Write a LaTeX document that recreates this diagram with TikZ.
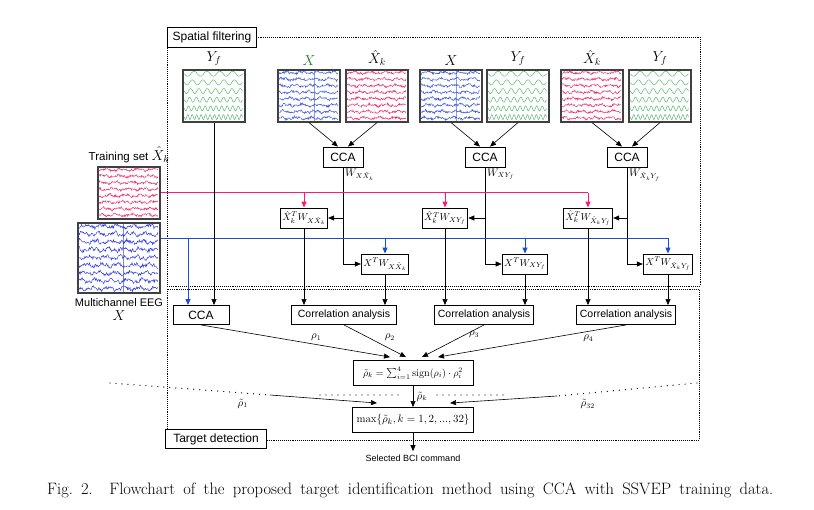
\documentclass[tikz,border=0pt]{standalone}
\usepackage{amsmath}
\usepackage{fontspec}
\setsansfont{Liberation Sans}
\usepackage{tikz}
\usetikzlibrary{arrows.meta}
\usetikzlibrary{calc, positioning}
\definecolor{eegblue}{rgb}{0.25, 0.35, 0.85}
\definecolor{eegdark}{rgb}{0.15, 0.2, 0.9}
\definecolor{eegpink}{rgb}{0.93, 0.2, 0.45}
\definecolor{sinegreen}{rgb}{0.35, 0.72, 0.45}
\definecolor{xgreen}{rgb}{0.15, 0.45, 0.15}
\definecolor{linepink}{rgb}{1.0, 0.1, 0.45}
\definecolor{lineblue}{rgb}{0.1, 0.3, 0.85}
\newcommand{\eegwave}[6]{%
  \begin{scope}[shift={(#1.north west)}]
    \foreach \row in {1,...,#3}
      \draw[#2, line width=0.45pt] plot[domain=1.5:#4-1.5, samples=120]
        (\x, {(\row-0.5)*#5/#3 + #6*(0.6*rand + 0.5*sin(\x*23+\row*70) + 0.3*sin(\x*61+\row*40))});
  \end{scope}}
\newcommand{\sinewave}[1]{%
  \begin{scope}[shift={(#1.north west)}]
    \foreach \row/\cyc in {1/4.5, 2/5.5, 3/7, 4/8.5, 5/10.5, 6/13}
      \draw[sinegreen, line width=0.5pt] plot[domain=2:60, samples=160, smooth]
        (\x, {(\row-0.5)*52/6 + 2.5*sin(\cyc*((\x-2)/58)*360)});
  \end{scope}}

\begin{document}
\begin{tikzpicture}[x=1pt, y=-1pt,
    box/.style={draw, line width=0.9pt, inner sep=2pt, font=\sffamily\fontsize{12}{14}\selectfont},
    mbox/.style={draw, line width=0.9pt, inner sep=2pt, font=\fontsize{10}{12}\selectfont, minimum height=20pt},
    sig/.style={draw=black!75, line width=1.2pt, minimum width=62pt, minimum height=52pt, inner sep=0pt},
    arr/.style={-{Triangle[length=6pt, width=5pt]}, line width=0.6pt},
    region/.style={densely dotted, line width=0.9pt},
    dots/.style={line width=1.3pt, line cap=round, dash pattern=on 0pt off 6pt},
    lbl/.style={font=\fontsize{14.5}{16}\selectfont},
    sm/.style={font=\fontsize{10.5}{12}\selectfont}]
  \useasboundingbox (0,0) rectangle (814,510);
  \pgfmathsetseed{42}

  \draw[region] (167,37) rectangle (700,286);
  \draw[region] (167,289) rectangle (699,440);
  \node[box, fill=white, minimum height=20pt, inner xsep=5pt] (spatial) at (212,37) {Spatial filtering};
  \node[box, fill=white, minimum height=19pt, inner xsep=8pt] (target) at (216,439) {Target detection};

  \node[sig] (yf0) at (214,96) {};
  \node[sig] (x1) at (309,96) {};
  \node[sig] (xh1) at (377,96) {};
  \node[sig] (x2) at (451,96) {};
  \node[sig] (yf2) at (518,96) {};
  \node[sig] (xh3) at (592,96) {};
  \node[sig] (yf3) at (660,96) {};
  \node[sig] (train) at (129,193) {};
  \node[sig, minimum width=82pt, minimum height=70pt] (eeg) at (119,258) {};

  \sinewave{yf0}
  \sinewave{yf2}
  \sinewave{yf3}
  \eegwave{x1}{eegblue}{8}{62}{52}{1.8}
  \eegwave{x2}{eegblue}{8}{62}{52}{1.8}
  \eegwave{xh1}{eegpink}{8}{62}{52}{1.7}
  \eegwave{xh3}{eegpink}{8}{62}{52}{1.7}
  \eegwave{train}{eegpink}{8}{62}{52}{1.7}
  \eegwave{eeg}{eegdark}{9}{82}{70}{2.6}
  \draw[eegblue, line width=0.4pt, opacity=0.6] ($(x1.north west)+(37,2)$) -- ($(x1.south west)+(37,-2)$);
  \draw[eegblue, line width=0.4pt, opacity=0.6] ($(x2.north west)+(37,2)$) -- ($(x2.south west)+(37,-2)$);
  \draw[eegdark, line width=0.4pt, opacity=0.6] ($(eeg.north west)+(46,2)$) -- ($(eeg.south west)+(46,-2)$);

  \node[lbl, above=0pt of yf0] (lyf0) {$Y_f$};
  \node[lbl, above=0pt of x1] (lx1) {\color{xgreen}$X$};
  \node[lbl, above=0pt of xh1] (lxh1) {$\hat{X}_k$};
  \node[lbl, above=0pt of x2] (lx2) {$X$};
  \node[lbl, above=0pt of yf2] (lyf2) {$Y_f$};
  \node[lbl, above=0pt of xh3] (lxh3) {$\hat{X}_k$};
  \node[lbl, above=0pt of yf3] (lyf3) {$Y_f$};
  \node[font=\sffamily\fontsize{11.5}{13}\selectfont, above=0pt of train] (ltrain) {Training set \fontsize{14}{15}\selectfont$\hat{X}_k$};
  \node[font=\sffamily\fontsize{11}{13}\selectfont, below=1pt of eeg] (leeg) {Multichannel EEG};
  \node[lbl, below=-3pt of leeg] (lx) {$X$};

  \node[box, minimum width=40pt, minimum height=20pt] (cca1) at (343,157) {CCA};
  \node[box, minimum width=40pt, minimum height=20pt] (cca2) at (485,157) {CCA};
  \node[box, minimum width=40pt, minimum height=20pt] (cca3) at (627,157) {CCA};
  \draw[arr] (x1.south) -- ($(cca1.north)+(-5,0)$);
  \draw[arr] (xh1.south) -- ($(cca1.north)+(5,0)$);
  \draw[arr] (x2.south) -- ($(cca2.north)+(-5,0)$);
  \draw[arr] (yf2.south) -- ($(cca2.north)+(5,0)$);
  \draw[arr] (xh3.south) -- ($(cca3.north)+(-5,0)$);
  \draw[arr] (yf3.south) -- ($(cca3.north)+(5,0)$);
  \node[sm, anchor=north west, inner sep=1pt] (w1) at ($(cca1.south)+(1,0)$) {$W_{X\hat{X}_k}$};
  \node[sm, anchor=north west, inner sep=1pt] (w2) at ($(cca2.south)+(1,0)$) {$W_{XY_f}$};
  \node[sm, anchor=north west, inner sep=1pt] (w3) at ($(cca3.south)+(1,0)$) {$W_{\hat{X}_kY_f}$};

  \node[mbox] (p1) at (304,218) {$\hat{X}_k^TW_{X\hat{X}_k}$};
  \node[mbox] (p2) at (445,218) {$\hat{X}_k^TW_{XY_f}$};
  \node[mbox] (p3) at (588,218) {$\hat{X}_k^TW_{\hat{X}_kY_f}$};
  \node[mbox] (q1) at (385,264) {$X^TW_{X\hat{X}_k}$};
  \node[mbox] (q2) at (525,264) {$X^TW_{XY_f}$};
  \node[mbox] (q3) at (668,264) {$X^TW_{\hat{X}_kY_f}$};
  \foreach \c/\p/\q in {cca1/p1/q1, cca2/p2/q2, cca3/p3/q3} {
    \draw[arr] (\c.south) |- (\q.west);
    \draw[arr] (\c.south |- \p.east) -- (\p.east);
  }

  \draw[linepink, line width=1pt] (train.east) -- (train.east -| p3.north);
  \foreach \p in {p1, p2, p3}
    \draw[linepink, arr, line width=1pt] (train.east -| \p.north) -- (\p.north);

  \coordinate (bl) at ($(eeg.north east)+(0,16)$);
  \coordinate (b0) at (188,239);
  \draw[lineblue, line width=1pt] (bl) -- (bl -| q3.north);
  \foreach \q in {q1, q2, q3}
    \draw[lineblue, arr, line width=1pt] (bl -| \q.north) -- (\q.north);

  \node[box, minimum width=56pt, minimum height=19pt] (cca0) at (201,315) {CCA};
  \node[box, font=\sffamily\fontsize{10.5}{12}\selectfont, minimum width=105pt, minimum height=19pt] (c1) at (344,315) {Correlation analysis};
  \node[box, font=\sffamily\fontsize{10.5}{12}\selectfont, minimum width=99pt, minimum height=19pt] (c2) at (484,315) {Correlation analysis};
  \node[box, font=\sffamily\fontsize{10.5}{12}\selectfont, minimum width=99pt, minimum height=19pt] (c3) at (626,315) {Correlation analysis};
  \draw[lineblue, arr, line width=1pt] (b0) -- (b0 |- cca0.north);
  \draw[arr] (yf0.south) -- (yf0.south |- cca0.north);
  \foreach \a/\b in {p1/c1, q1/c1, p2/c2, q2/c2, p3/c3, q3/c3}
    \draw[arr] (\a.south) -- (\a.south |- \b.north);

  \node[box, font=\fontsize{10.2}{12}\selectfont, inner xsep=1pt, minimum width=120pt, minimum height=25pt] (sum) at (413,373)
    {$\tilde{\rho}_k=\sum_{i=1}^{4}\mathrm{sign}(\rho_i)\cdot\rho_i^2$};
  \node[box, font=\fontsize{11}{13}\selectfont, inner xsep=1pt, minimum width=121pt, minimum height=25pt] (max) at (413,420)
    {$\max\{\tilde{\rho}_k,k=1,2,...,32\}$};
  \draw[arr] (cca0.south) -- ($(sum.north)+(-23,-3)$) node[sm, pos=0.61, above] {$\rho_1$};
  \draw[arr] (c1.south) -- ($(sum.north)+(-7,-3)$) node[sm, pos=0.6, above right] {$\rho_2$};
  \draw[arr] (c2.south) -- ($(sum.north)+(9,-3)$) node[sm, pos=0.3, right] {$\rho_3$};
  \draw[arr] (c3.south) -- ($(sum.north)+(25,-3)$) node[sm, pos=0.2, below] {$\rho_4$};
  \draw[arr] (sum.south) -- (max.north) node[sm, midway, right] {$\tilde{\rho}_k$};

  \coordinate (lfar) at (110,383);
  \coordinate (lnear) at (270,395);
  \coordinate (rfar) at (697,383);
  \coordinate (rnear) at (557,396);
  \draw[dots] (lfar) -- (lnear) node[sm, pos=0.83, below=2pt] {$\tilde{\rho}_1$};
  \draw[dots] (rfar) -- (rnear) node[sm, pos=0.78, below=2pt] {$\tilde{\rho}_{32}$};
  \draw[dots] (320,395) -- (400,395);
  \draw[dots] (437,395) -- (507,395);
  \draw[arr] (lnear) -- ($(max.north)+(-36,-4)$);
  \draw[arr] (rnear) -- ($(max.north)+(37,-4)$);

  \node[font=\sffamily\fontsize{9}{11}\selectfont] (out) at (413,458) {Selected BCI command};
  \draw[arr] (max.south) -- (out.north);

  \node[font=\fontsize{16.5}{19}\selectfont, anchor=west, inner sep=0pt] (caption) at (47,490)
    {\makebox[726pt][s]{Fig.~2.\quad Flowchart of the proposed target identification method using CCA with SSVEP training data.}};
\end{tikzpicture}
\end{document}
